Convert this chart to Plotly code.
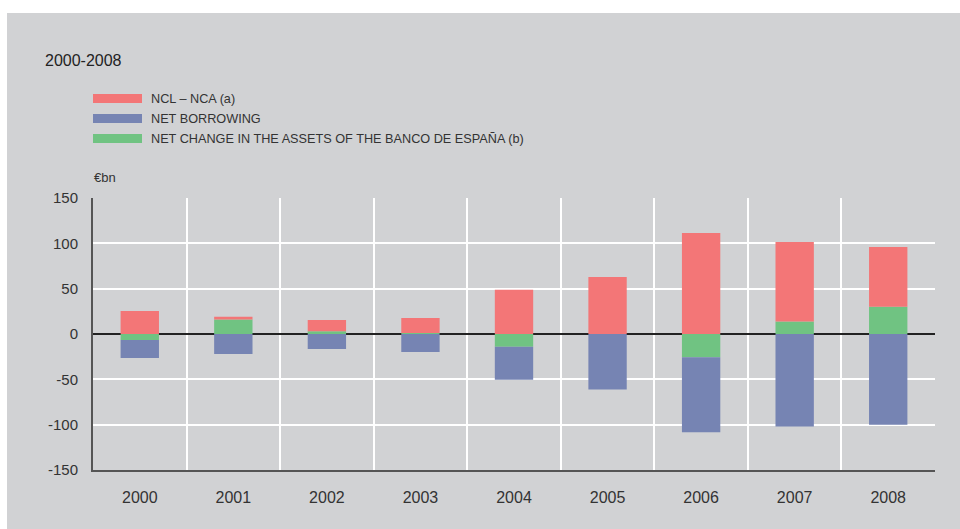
import plotly.graph_objects as go

years = ["2000", "2001", "2002", "2003", "2004", "2005", "2006", "2007", "2008"]
ncl_nca = [25.5, 3.0, 12.5, 16.6, 48.7, 63.0, 111.3, 87.5, 66.0]
net_borrowing = [-20.0, -22.0, -16.5, -19.8, -36.5, -61.2, -82.8, -101.9, -100.0]
bde_assets = [-6.5, 16.1, 2.9, 1.0, -14.0, 0.0, -25.7, 13.9, 30.0]
series_names = ["NCL – NCA (a)", "NET BORROWING",
                "NET CHANGE IN THE ASSETS OF THE BANCO DE ESPAÑA (b)"]
y_ticks = [-150, -100, -50, 0, 50, 100, 150]
y_tick_text = ["-150", "-100", "-50", "0", "50", "100", "150"]

RED = "#f37677"
BLUE = "#7684b3"
GREEN = "#70c382"
BG = "#d1d2d4"
FONT = "Liberation Sans, Arial, sans-serif"

# plot area in pixels
L, R, T, B = 93, 935, 198, 470
W, H = R - L, B - T


def px_x(p):
    return (p - L) / W


def px_y(p):
    return (B - p) / H


fig = go.Figure()
# green first so that it stacks nearest zero
fig.add_trace(go.Bar(x=years, y=bde_assets, name=series_names[2],
                     marker=dict(color=GREEN, line=dict(width=0)), showlegend=False))
fig.add_trace(go.Bar(x=years, y=ncl_nca, name=series_names[0],
                     marker=dict(color=RED, line=dict(width=0)), showlegend=False))
fig.add_trace(go.Bar(x=years, y=net_borrowing, name=series_names[1],
                     marker=dict(color=BLUE, line=dict(width=0)), showlegend=False))

shapes = [
    dict(type="rect", xref="paper", yref="paper", x0=px_x(7), x1=px_x(960),
         y0=px_y(13), y1=px_y(529), fillcolor=BG, line=dict(width=0), layer="below"),
]
annotations = [
    dict(text="2000-2008", xref="paper", yref="paper", x=px_x(43), y=px_y(60),
         xanchor="left", yanchor="middle", showarrow=False,
         font=dict(family=FONT, size=16, color="#222")),
    dict(text="€bn", xref="paper", yref="paper", x=px_x(92), y=px_y(177),
         xanchor="left", yanchor="middle", showarrow=False,
         font=dict(family=FONT, size=13, color="#333")),
]
legend_colors = [RED, BLUE, GREEN]
legend_rows = [98.5, 118.5, 138.5]
for name, col, yy in zip(series_names, legend_colors, legend_rows):
    shapes.append(dict(type="rect", xref="paper", yref="paper",
                       x0=px_x(93), x1=px_x(142), y0=px_y(yy - 4.5), y1=px_y(yy + 4.5),
                       fillcolor=col, line=dict(width=0)))
    annotations.append(dict(text=name, xref="paper", yref="paper", x=px_x(149), y=px_y(yy),
                            xanchor="left", yanchor="middle", showarrow=False,
                            font=dict(family=FONT, size=12.7, color="#333")))

fig.update_layout(
    width=960, height=529,
    margin=dict(l=L, r=960 - R, t=T, b=529 - B, pad=0),
    paper_bgcolor="white", plot_bgcolor=BG,
    barmode="relative", bargap=0.59,
    showlegend=False,
    shapes=shapes, annotations=annotations,
    font=dict(family=FONT, size=14, color="#333"),
    xaxis=dict(type="category", tickson="boundaries", showgrid=True,
               gridcolor="white", gridwidth=2, ticks="", showline=True,
               linecolor="#555", linewidth=2, ticklabelstandoff=12,
               tickfont=dict(family=FONT, size=16, color="#333"), fixedrange=True),
    yaxis=dict(range=[-150, 150], tickvals=y_ticks, ticktext=y_tick_text, showgrid=True,
               gridcolor="white", gridwidth=2, zeroline=True, zerolinecolor="#222",
               zerolinewidth=1.5, showline=True, linecolor="#555", linewidth=2,
               ticks="", ticklabelstandoff=10,
               tickfont=dict(family=FONT, size=15, color="#333"), fixedrange=True),
)

fig.write_html("out.html")
